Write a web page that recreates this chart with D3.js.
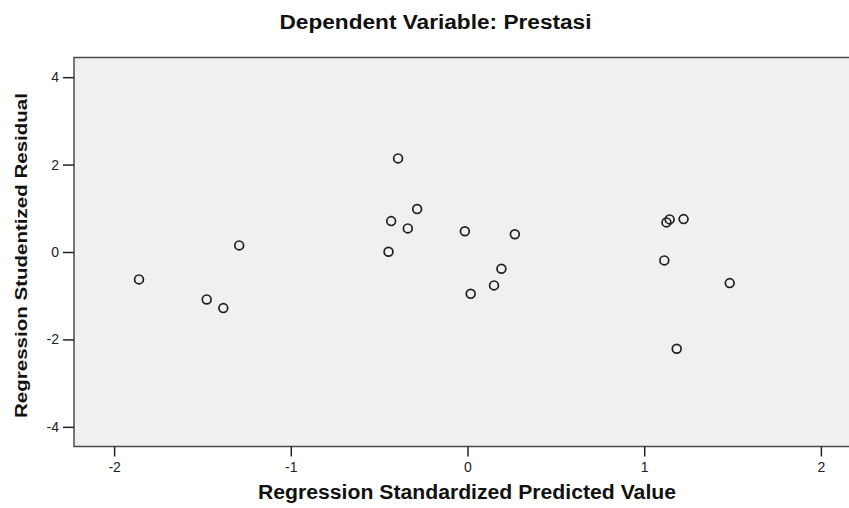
<!DOCTYPE html>
<html>
<head>
<meta charset="utf-8">
<script src="https://cdn.jsdelivr.net/npm/d3@7"></script>
<style>
  body { margin: 0; background: #fff; }
  svg { display: block; font-family: "Liberation Sans", Arial, sans-serif; }
</style>
</head>
<body>
<script>
//predicted values (x) and studentized residuals (y)
var predicted = [-1.859, -1.476, -1.382, -1.292, -0.393, -0.285, -0.432, -0.338, -0.447, -0.015,
  0.268, 0.192, 0.150, 0.018, 1.144, 1.126, 1.223, 1.114, 1.484, 1.184];
var residuals = [-0.627, -1.085, -1.284, 0.151, 2.142, 0.982, 0.707, 0.540, 0.005, 0.476,
  0.405, -0.384, -0.764, -0.957, 0.746, 0.677, 0.753, -0.192, -0.712, -2.215];

var xTicks = [-2, -1, 0, 1, 2];
var yTicks = [-4, -2, 0, 2, 4];

var titleText = "Dependent Variable: Prestasi";
var xLabel = "Regression Standardized Predicted Value";
var yLabel = "Regression Studentized Residual";

var width = 849,
  height = 508;

var plot = { left: 74, top: 57.5, right: 861, bottom: 446.5 };

var svg = d3.select("body")
  .append("svg")
  .attr("width", width)
  .attr("height", height);

var x = d3.scaleLinear()
  .domain([-2.227, 2.227])
  .range([plot.left, plot.right]);

var y = d3.scaleLinear()
  .domain([-4.45, 4.45])
  .range([plot.bottom, plot.top]);

//plot background + frame
svg.append("rect")
  .attr("x", plot.left)
  .attr("y", plot.top)
  .attr("width", plot.right - plot.left)
  .attr("height", plot.bottom - plot.top)
  .attr("fill", "#f0f0f0")
  .attr("stroke", "#4a4a4a")
  .attr("stroke-width", 1.5);

//axes (plain hyphen for negatives, like the original)
var xAxis = svg.append("g")
  .attr("transform", "translate(0," + plot.bottom + ")")
  .call(d3.axisBottom(x).tickValues(xTicks).tickSize(10).tickPadding(6).tickFormat(function(d) { return String(d); }));

var yAxis = svg.append("g")
  .attr("transform", "translate(" + plot.left + ",0)")
  .call(d3.axisLeft(y).tickValues(yTicks).tickSize(11).tickPadding(4).tickFormat(function(d) { return String(d); }));

[xAxis, yAxis].forEach(function(g) {
  g.select(".domain").remove();
  g.selectAll(".tick line").attr("stroke", "#222").attr("stroke-width", 1.5);
  g.selectAll(".tick text")
    .attr("fill", "#222")
    .style("font-size", "14px")
    .style("font-family", "\"Liberation Sans\", Arial, sans-serif");
});

//points
svg.selectAll(".pt")
  .data(predicted)
  .enter()
  .append("circle")
  .attr("class", "pt")
  .attr("cx", function(d) { return x(d); })
  .attr("cy", function(d, i) { return y(residuals[i]); })
  .attr("r", 4.4)
  .attr("fill", "none")
  .attr("stroke", "#1e1e1e")
  .attr("stroke-width", 1.7);

//title and axis labels
svg.append("text")
  .attr("x", 435.5)
  .attr("y", 29)
  .attr("text-anchor", "middle")
  .attr("font-weight", "bold")
  .attr("font-size", 20)
  .attr("textLength", 312)
  .attr("lengthAdjust", "spacingAndGlyphs")
  .attr("fill", "#111")
  .text(titleText);

svg.append("text")
  .attr("x", 467)
  .attr("y", 499)
  .attr("text-anchor", "middle")
  .attr("font-weight", "bold")
  .attr("font-size", 20)
  .attr("textLength", 418)
  .attr("lengthAdjust", "spacingAndGlyphs")
  .attr("fill", "#111")
  .text(xLabel);

svg.append("text")
  .attr("transform", "translate(27,255.5) rotate(-90)")
  .attr("text-anchor", "middle")
  .attr("font-weight", "bold")
  .attr("font-size", 17)
  .attr("textLength", 325)
  .attr("lengthAdjust", "spacingAndGlyphs")
  .attr("fill", "#111")
  .text(yLabel);
</script>
</body>
</html>
